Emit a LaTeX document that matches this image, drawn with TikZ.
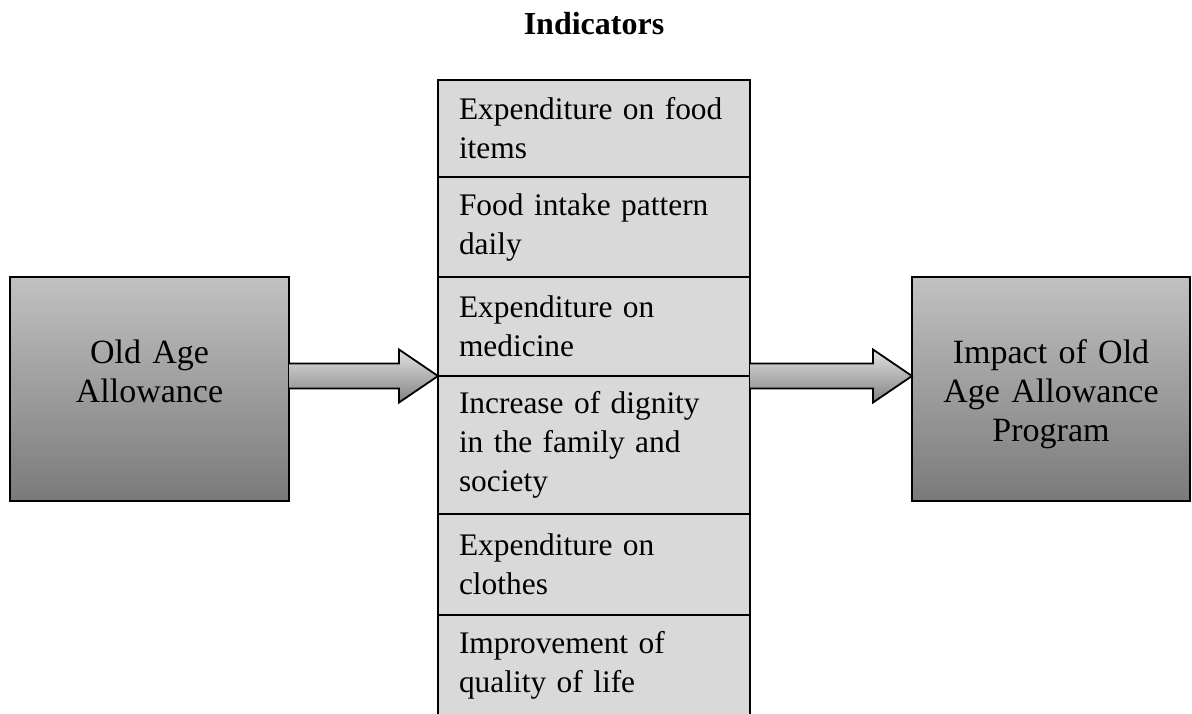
\documentclass[tikz,border=0pt]{standalone}
\usepackage{fontspec}
\setmainfont{Liberation Serif}
\usepackage{xcolor}
\usetikzlibrary{calc,positioning}

\definecolor{rowgray}{RGB}{217,217,217}
\definecolor{boxtop}{RGB}{193,193,193}
\definecolor{boxbottom}{RGB}{122,122,122}
\definecolor{arrowtop}{RGB}{226,226,226}
\definecolor{arrowbottom}{RGB}{130,130,130}

\tikzset{
  indrow/.style={font=\fontsize{15.7pt}{19.5pt}\selectfont, draw, line width=0.9pt,
    fill=rowgray, outer sep=0pt, minimum width=156pt, text width=135pt,
    inner xsep=10.5pt, inner ysep=0pt, align=left, anchor=north},
  sidebox/.style={font=\fontsize{17pt}{19.5pt}\selectfont, draw, line width=0.9pt,
    outer sep=0pt, top color=boxtop, bottom color=boxbottom, minimum width=139.5pt,
    minimum height=112pt, text width=130pt, align=center, text depth=37.6pt},
  fatarrow/.style={draw, line width=0.9pt, line join=miter,
    top color=arrowtop, bottom color=arrowbottom}
}

% block arrow from #1 (shaft start) to #2 (tip)
\newcommand{\fatarrow}[2]{%
  \shade[fatarrow] ($(#1)+(0pt,6.25pt)$) -- ($(#2)+(-19.5pt,6.25pt)$)
    -- ($(#2)+(-19.5pt,13.25pt)$) -- (#2) -- ($(#2)+(-19.5pt,-13.25pt)$)
    -- ($(#2)+(-19.5pt,-6.25pt)$) -- ($(#1)+(0pt,-6.25pt)$);}

\begin{document}
\begin{tikzpicture}[x=0.5pt,y=-0.5pt]
  \useasboundingbox (0,0) rectangle (1192,713);

  \node[font=\fontsize{16pt}{19.5pt}\selectfont\bfseries, anchor=base] (title) at (594,34) {Indicators};

  % indicator column
  \node[indrow, minimum height=48.5pt] (food) at (594,80) {Expenditure on food\\items};
  \node[indrow, minimum height=50pt, below=0pt of food] (intake) {Food intake pattern\\daily};
  \node[indrow, minimum height=49.5pt, below=0pt of intake] (medicine) {Expenditure on\\medicine};
  \node[indrow, minimum height=69pt, below=0pt of medicine] (dignity) {Increase of dignity\\in the family and\\society};
  \node[indrow, minimum height=50.5pt, below=0pt of dignity] (clothes) {Expenditure on\\clothes};
  \node[indrow, minimum height=50.5pt, below=0pt of clothes] (quality) {Improvement of\\quality of life};

  % input and outcome
  \node[sidebox] (oaa) at (149.5,389) {Old Age\\Allowance};
  \node[sidebox, minimum width=139pt] (impact) at (1051,389) {Impact of Old\\Age Allowance\\Program};

  \fatarrow{oaa.east |- dignity.north west}{dignity.north west}
  \fatarrow{dignity.north east}{impact.west |- dignity.north east}
\end{tikzpicture}
\end{document}
